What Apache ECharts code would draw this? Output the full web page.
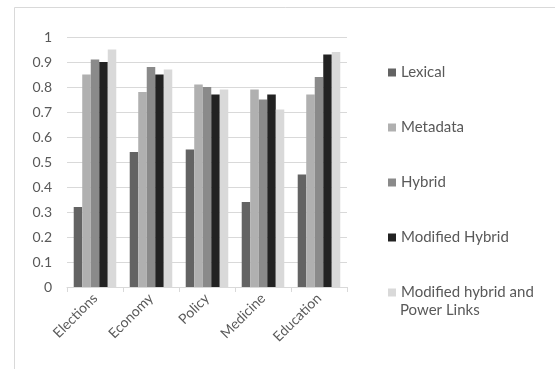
<!DOCTYPE html>
<html>
<head>
<meta charset="utf-8">
<style>
  html, body { margin: 0; padding: 0; background: #ffffff; }
  #chart { width: 555px; height: 369px; }
</style>
<script src="https://cdn.jsdelivr.net/npm/echarts@6/dist/echarts.min.js"></script>
</head>
<body>
<div id="chart"></div>
<script>
// Topic categories along the x axis
const categories = ['Elections', 'Economy', 'Policy', 'Medicine', 'Education'];

// Scores per method
const lexical        = [0.32, 0.54, 0.55, 0.34, 0.45];
const metadata       = [0.85, 0.78, 0.81, 0.79, 0.77];
const hybrid         = [0.91, 0.88, 0.80, 0.75, 0.84];
const modifiedHybrid = [0.90, 0.85, 0.77, 0.77, 0.93];
const modifiedPower  = [0.95, 0.87, 0.79, 0.71, 0.94];

const seriesNames = ['Lexical', 'Metadata', 'Hybrid', 'Modified Hybrid', 'Modified hybrid and Power Links'];
const seriesData = [lexical, metadata, hybrid, modifiedHybrid, modifiedPower];
const seriesColors = ['#636363', '#b0b0b0', '#8a8a8a', '#222222', '#d9d9d9'];

const textColor = '#595959';
const fontFamily = 'Lato, "Open Sans", sans-serif';

const chart = echarts.init(document.getElementById('chart'), null, { renderer: 'canvas' });

chart.setOption({
  animation: false,
  backgroundColor: '#ffffff',
  textStyle: { fontFamily: fontFamily, color: textColor },
  graphic: [
    {
      type: 'rect',
      shape: { x: 14.5, y: 7.5, width: 600, height: 400 },
      style: { fill: 'none', stroke: '#d9d9d9', lineWidth: 1 },
      silent: true
    }
  ],
  // second line of the last legend entry, wrapped under its first line
  title: {
    text: 'Power Links',
    left: 400,
    top: 302,
    padding: 0,
    textStyle: {
      fontFamily: fontFamily,
      fontSize: 15,
      fontWeight: 'normal',
      color: textColor,
      lineHeight: 17
    }
  },
  grid: { left: 67, right: 208, top: 37, bottom: 82 },
  legend: {
    orient: 'vertical',
    left: 383,
    top: 59,
    itemWidth: 8,
    itemHeight: 8,
    itemGap: 38,
    itemTextGap: 4,
    icon: 'rect',
    data: seriesNames,
    formatter: function (name) {
      return name === 'Modified hybrid and Power Links' ? 'Modified hybrid and' : name;
    },
    textStyle: {
      fontFamily: fontFamily,
      fontSize: 15,
      color: textColor,
      lineHeight: 17
    }
  },
  xAxis: {
    type: 'category',
    data: categories,
    boundaryGap: true,
    axisLine: { show: true, lineStyle: { color: '#d9d9d9', width: 1 } },
    axisTick: { show: true, length: 5, lineStyle: { color: '#d9d9d9' } },
    axisLabel: {
      rotate: 45,
      interval: 0,
      margin: 9,
      fontFamily: fontFamily,
      fontSize: 14,
      color: textColor
    }
  },
  yAxis: {
    type: 'value',
    min: 0,
    max: 1,
    interval: 0.1,
    axisLine: { show: false },
    axisTick: { show: false },
    splitLine: { show: true, lineStyle: { color: '#d9d9d9', width: 1 } },
    axisLabel: {
      margin: 15,
      fontFamily: fontFamily,
      fontSize: 14,
      color: textColor,
      formatter: function (v) { return String(Math.round(v * 10) / 10); }
    }
  },
  series: seriesNames.map(function (name, i) {
    return {
      name: name,
      type: 'bar',
      data: seriesData[i],
      itemStyle: { color: seriesColors[i] },
      barGap: '0%',
      barCategoryGap: '24%'
    };
  })
});
</script>
</body>
</html>
